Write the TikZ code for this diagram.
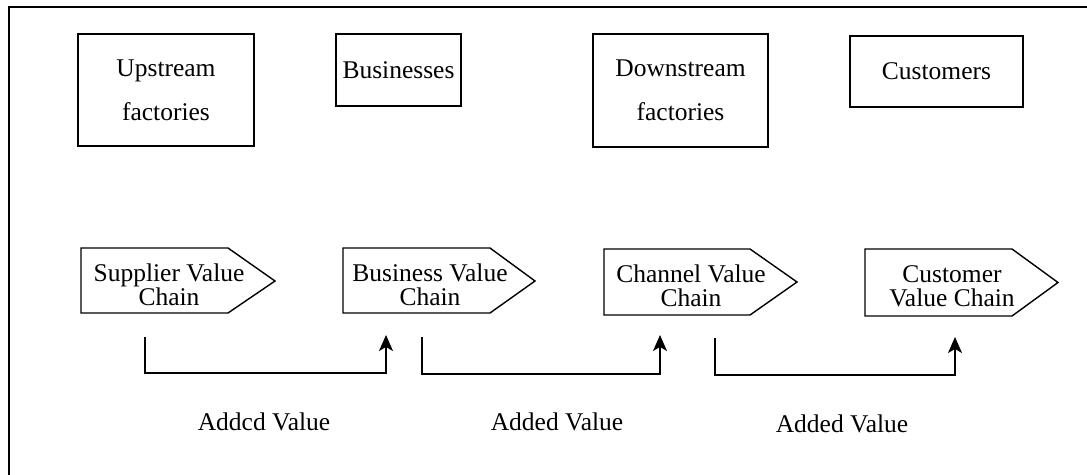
\documentclass[tikz,border=0pt]{standalone}
\usepackage{fontspec}
\setmainfont{Liberation Serif}
\usetikzlibrary{arrows.meta}
\begin{document}
\begin{tikzpicture}[x=1pt,y=-1pt,
  txt/.style={font=\fontsize{25.5}{24}\selectfont, inner sep=0pt, align=center},
  topbox/.style={draw, line width=1.4pt, inner sep=0pt, align=center,
                 font=\fontsize{25.5}{44}\selectfont},
  pent/.style={draw, line width=1.4pt, line join=miter},
  arr/.style={draw, line width=1.4pt, -{Stealth[length=16pt,width=14pt,inset=4pt]}},
  lbl/.style={font=\fontsize{25.5}{24}\selectfont, inner sep=0pt, anchor=base}]
\useasboundingbox (0,0) rectangle (1087,474);
% frame
\draw[line width=2pt] (9,480) -- (9,7) -- (1095,7);
% top boxes
\node[topbox, minimum width=176pt, minimum height=112pt] (up) at (166,90) {Upstream\\factories};
\node[topbox, minimum width=125pt, minimum height=72pt] (bus) at (398.5,70) {Businesses};
\node[topbox, minimum width=175pt, minimum height=113pt] (down) at (680.5,90.5) {Downstream\\factories};
\node[topbox, minimum width=173pt, minimum height=71pt] (cust) at (936.5,71.5) {Customers};
% pentagons
\draw[pent] (81,248) -- (228,248) -- (275,281) -- (228,313) -- (81,313) -- cycle;
\draw[pent] (343,248) -- (490,248) -- (535,281) -- (490,313) -- (343,313) -- cycle;
\draw[pent] (604,249) -- (750,249) -- (797,282) -- (750,315) -- (604,315) -- cycle;
\draw[pent] (865,249) -- (1012,249) -- (1058,282.5) -- (1012,316) -- (865,316) -- cycle;
\node[txt] (sv) at (169,285) {Supplier Value\\Chain};
\node[txt] (bv) at (430,285) {Business Value\\Chain};
\node[txt] (cv) at (691,286) {Channel Value\\Chain};
\node[txt] (cuv) at (952,286) {Customer\\Value Chain};
% connectors
\coordinate (a1s) at (145,337);
\coordinate (a1e) at (386,335);
\coordinate (a2s) at (422,337);
\coordinate (a2e) at (660,335);
\coordinate (a3s) at (715,338);
\coordinate (a3e) at (955,337);
\draw[arr] (a1s) -- ++(0,36) -| (a1e);
\draw[arr] (a2s) -- ++(0,37) -| (a2e);
\draw[arr] (a3s) -- ++(0,37) -| (a3e);
% labels
\node[lbl] (l1) at (264,430) {Addcd Value};
\node[lbl] (l2) at (557,430) {Added Value};
\node[lbl] (l3) at (842,432) {Added Value};
\end{tikzpicture}
\end{document}
